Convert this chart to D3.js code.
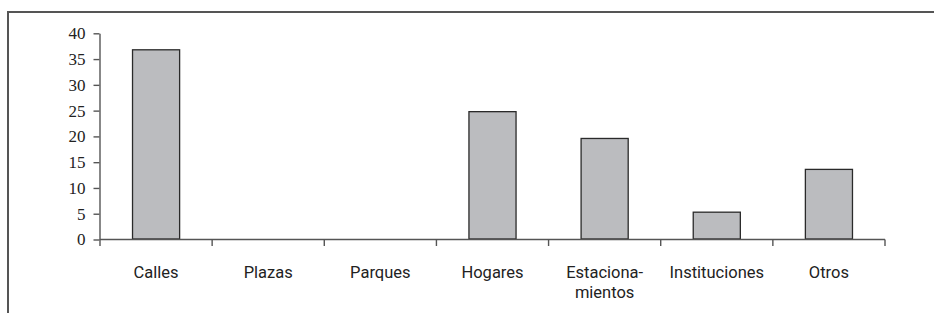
<!DOCTYPE html>
<html>
<head>
<meta charset="utf-8">
<script src="https://cdn.jsdelivr.net/npm/d3@7"></script>
<style>
  html, body { margin: 0; padding: 0; background: #fff; }
  svg { display: block; }
</style>
</head>
<body>
<svg id="chart" width="934" height="313"></svg>
<script>
const categories = ["Calles", "Plazas", "Parques", "Hogares", "Estaciona-\nmientos", "Instituciones", "Otros"];
const values = [36.8, 0, 0, 24.8, 19.6, 5.3, 13.6];
const yTicks = [0, 5, 10, 15, 20, 25, 30, 35, 40];

const svg = d3.select("#chart");
const W = 934, H = 313;

// frame (left + top border)
svg.append("path")
  .attr("d", `M8,${H} V12 H${W}`)
  .attr("fill", "none")
  .attr("stroke", "#555")
  .attr("stroke-width", 2);

const x = d3.scaleBand()
  .domain(categories)
  .range([100, 885])
  .paddingInner(0.58)
  .paddingOuter(0.29);

const y = d3.scaleLinear()
  .domain([0, 40])
  .range([239.5, 33.3]);

// bars
svg.append("g").selectAll("rect")
  .data(categories.map((c, i) => ({ c, v: values[i] })).filter(d => d.v > 0))
  .join("rect")
  .attr("x", d => x(d.c))
  .attr("y", d => y(d.v))
  .attr("width", x.bandwidth())
  .attr("height", d => y(0) - y(d.v) - 0.5)
  .attr("fill", "#bbbcbf")
  .attr("stroke", "#2a2a2a")
  .attr("stroke-width", 1.3);

// y axis
const yAxis = svg.append("g")
  .attr("transform", "translate(99.5,0)")
  .call(d3.axisLeft(y).tickValues(yTicks).tickSize(6).tickSizeOuter(0).tickPadding(8));
yAxis.select(".domain").attr("stroke", "#555").attr("stroke-width", 1.4);
yAxis.selectAll(".tick line").attr("stroke", "#555").attr("stroke-width", 1.4);
yAxis.selectAll(".tick text")
  .attr("fill", "#222")
  .style("font-family", "'Liberation Serif', 'DejaVu Serif', serif")
  .style("font-size", "17px");

// x axis line and boundary ticks
const gap = x.step() - x.bandwidth();
const bounds = [x(categories[0]) - gap / 2].concat(categories.map(c => x(c) + x.bandwidth() + gap / 2));
const xg = svg.append("g");
xg.append("line")
  .attr("x1", bounds[0]).attr("x2", bounds[bounds.length - 1])
  .attr("y1", y(0)).attr("y2", y(0))
  .attr("stroke", "#555").attr("stroke-width", 1.4);
xg.selectAll("line.tk")
  .data(bounds)
  .join("line")
  .attr("class", "tk")
  .attr("x1", d => d).attr("x2", d => d)
  .attr("y1", y(0)).attr("y2", y(0) + 6.5)
  .attr("stroke", "#555").attr("stroke-width", 1.4);

// x labels (one text element per line)
const labelLines = [];
categories.forEach(c => c.split("\n").forEach((ln, i) => labelLines.push({ c, ln, i })));
xg.selectAll("text")
  .data(labelLines)
  .join("text")
  .attr("x", d => x(d.c) + x.bandwidth() / 2)
  .attr("y", d => 278 + d.i * 19.5)
  .attr("text-anchor", "middle")
  .attr("fill", "#222")
  .style("font-family", "'Roboto', 'Liberation Sans', sans-serif")
  .style("font-size", "16.5px")
  .text(d => d.ln);
</script>
</body>
</html>
